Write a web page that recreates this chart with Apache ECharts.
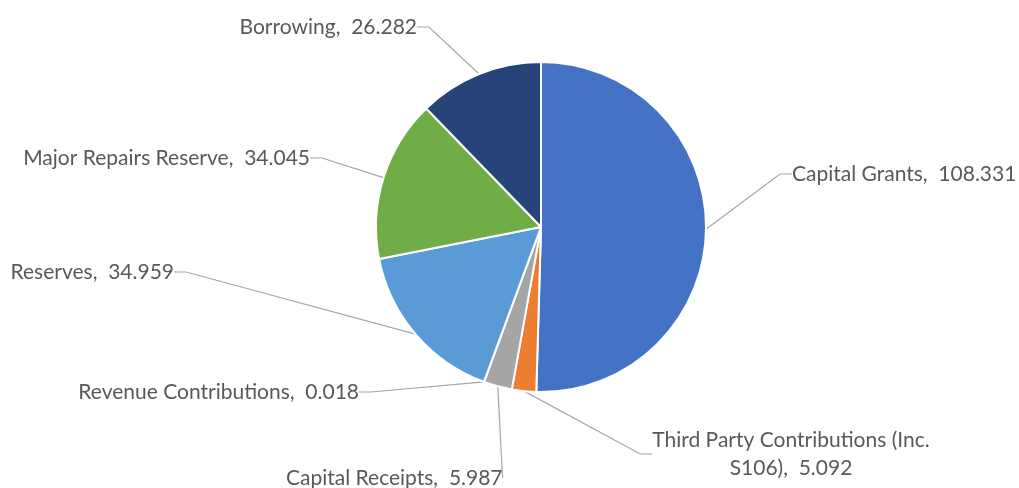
<!DOCTYPE html>
<html>
<head>
<meta charset="utf-8">
<script src="https://cdn.jsdelivr.net/npm/echarts@6/dist/echarts.min.js"></script>
<style>
html,body{margin:0;padding:0;background:#fff;}
#chart{width:1019px;height:488px;}
</style>
</head>
<body>
<div id="chart"></div>
<script>
var categories = [
  'Capital Grants',
  'Third Party Contributions (Inc.\nS106)',
  'Capital Receipts',
  'Revenue Contributions',
  'Reserves',
  'Major Repairs Reserve',
  'Borrowing'
];
var values = [108.331, 5.092, 5.987, 0.018, 34.959, 34.045, 26.282];
var colors = ['#4472C4', '#ED7D31', '#A5A5A5', '#FFC000', '#5B9BD5', '#70AD47', '#264478'];

// label placement (layout only)
var labelPos = [
  {x: 792, y: 174, align: 'left'},
  {x: 791, y: 454, align: 'center'},
  {x: 286, y: 478, align: 'left'},
  {x: 359, y: 392, align: 'right'},
  {x: 174, y: 272, align: 'right'},
  {x: 310, y: 158, align: 'right'},
  {x: 417, y: 27, align: 'right'}
];

var chart = echarts.init(document.getElementById('chart'), null, {renderer: 'canvas'});
var data = categories.map(function (c, i) {
  return {name: c, value: values[i], itemStyle: {color: colors[i]}};
});
chart.setOption({
  backgroundColor: '#ffffff',
  animation: false,
  series: [{
    type: 'pie',
    center: [541, 227],
    radius: [0, 165],
    startAngle: 90,
    clockwise: true,
    avoidLabelOverlap: false,
    data: data,
    itemStyle: {borderColor: '#ffffff', borderWidth: 2},
    label: {
      show: true,
      formatter: function (p) { return p.name + ',  ' + p.value; },
      fontFamily: 'Lato',
      fontSize: 21,
      color: '#595959',
      lineHeight: 28
    },
    labelLine: {
      show: true,
      length: 20,
      length2: 12,
      lineStyle: {color: '#A6A6A6', width: 1.2}
    },
    labelLayout: function (p) {
      var lp = labelPos[p.dataIndex];
      return {x: lp.x, y: lp.y, align: lp.align, verticalAlign: 'middle'};
    }
  }]
});
</script>
</body>
</html>
